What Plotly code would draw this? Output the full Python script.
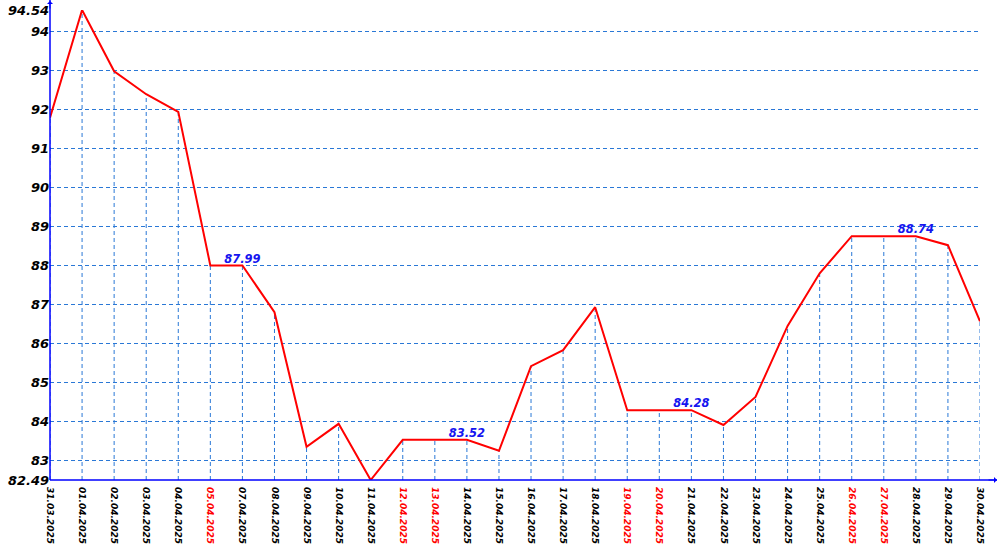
import plotly.graph_objects as go

dates = ["31.03.2025", "01.04.2025", "02.04.2025", "03.04.2025", "04.04.2025", "05.04.2025",
         "07.04.2025", "08.04.2025", "09.04.2025", "10.04.2025", "11.04.2025", "12.04.2025",
         "13.04.2025", "14.04.2025", "15.04.2025", "16.04.2025", "17.04.2025", "18.04.2025",
         "19.04.2025", "20.04.2025", "21.04.2025", "22.04.2025", "23.04.2025", "24.04.2025",
         "25.04.2025", "26.04.2025", "27.04.2025", "28.04.2025", "29.04.2025", "30.04.2025"]
values = [91.78, 94.54, 92.97, 92.38, 91.93, 87.99,
          87.99, 86.79, 83.34, 83.93, 82.49, 83.52,
          83.52, 83.52, 83.24, 85.41, 85.82, 86.92,
          84.28, 84.28, 84.28, 83.90, 84.62, 86.44,
          87.79, 88.74, 88.74, 88.74, 88.51, 86.56]
weekend = ["05.04.2025", "12.04.2025", "13.04.2025", "19.04.2025", "20.04.2025",
           "26.04.2025", "27.04.2025"]
label_dates = ["07.04.2025", "14.04.2025", "21.04.2025", "28.04.2025"]
y_min, y_max = 82.49, 94.54
y_ticks = [82.49, 83, 84, 85, 86, 87, 88, 89, 90, 91, 92, 93, 94, 94.54]
y_ticktext = ["82.49", "83", "84", "85", "86", "87", "88", "89", "90", "91", "92", "93", "94", "94.54"]

GRID = "#2A78D6"
AXIS = "#0000FF"

xs = list(range(len(dates)))
ticktext = [f'<span style="color:#FF0000">{d}</span>' if d in weekend else d for d in dates]

fig = go.Figure()

# vertical drop lines
dx, dy = [], []
for i, v in zip(xs, values):
    dx += [i, i, None]
    dy += [y_min, v, None]
fig.add_trace(go.Scatter(x=dx, y=dy, mode="lines",
                         line=dict(color=GRID, width=1, dash="4px,3px"),
                         hoverinfo="skip", showlegend=False))

fig.add_trace(go.Scatter(x=xs, y=values, mode="lines",
                         line=dict(color="#FF0000", width=2),
                         showlegend=False))

lx = [dates.index(d) for d in label_dates]
ly = [values[i] for i in lx]
fig.add_trace(go.Scatter(x=lx, y=ly, mode="text",
                         text=[f"{v:.2f}" for v in ly],
                         textposition="top center",
                         textfont=dict(family="DejaVu Sans", size=11.5, color="#1515F0",
                                       weight="bold", style="italic"),
                         showlegend=False, hoverinfo="skip"))

fig.update_layout(
    width=1000, height=550,
    margin=dict(l=50, r=20, t=10, b=70),
    plot_bgcolor="white", paper_bgcolor="white",
    xaxis=dict(range=[0, len(dates) - 1], tickvals=xs, ticktext=ticktext,
               tickangle=90, showgrid=False, zeroline=False, showline=False,
               ticks="", ticklabelstandoff=6, automargin=False,
               tickfont=dict(family="DejaVu Sans", size=9, color="#000000",
                             weight="bold", style="italic")),
    yaxis=dict(range=[y_min, y_max], tickvals=y_ticks, ticktext=y_ticktext,
               showgrid=True, gridcolor=GRID, gridwidth=1, griddash="4px,3px",
               zeroline=False, showline=False, ticks="", automargin=False,
               tickfont=dict(family="DejaVu Sans", size=13, color="#000000",
                             weight="bold", style="italic")),
)

# axis lines with arrows
fig.add_shape(type="line", xref="paper", yref="paper", x0=0, x1=1.0183, y0=0, y1=0,
              line=dict(color=AXIS, width=1.5))
fig.add_shape(type="line", xref="paper", yref="paper", x0=0, x1=0, y0=0, y1=1.0213,
              line=dict(color=AXIS, width=1.5))
fig.add_annotation(xref="paper", yref="paper", x=1.0183, y=0, ax=-10, ay=0,
                   showarrow=True, arrowhead=1, arrowsize=1, arrowwidth=1,
                   arrowcolor=AXIS, text="")
fig.add_annotation(xref="paper", yref="paper", x=0, y=1.0213, ax=0, ay=10,
                   showarrow=True, arrowhead=1, arrowsize=1, arrowwidth=1,
                   arrowcolor=AXIS, text="")

fig.write_html("out.html")
